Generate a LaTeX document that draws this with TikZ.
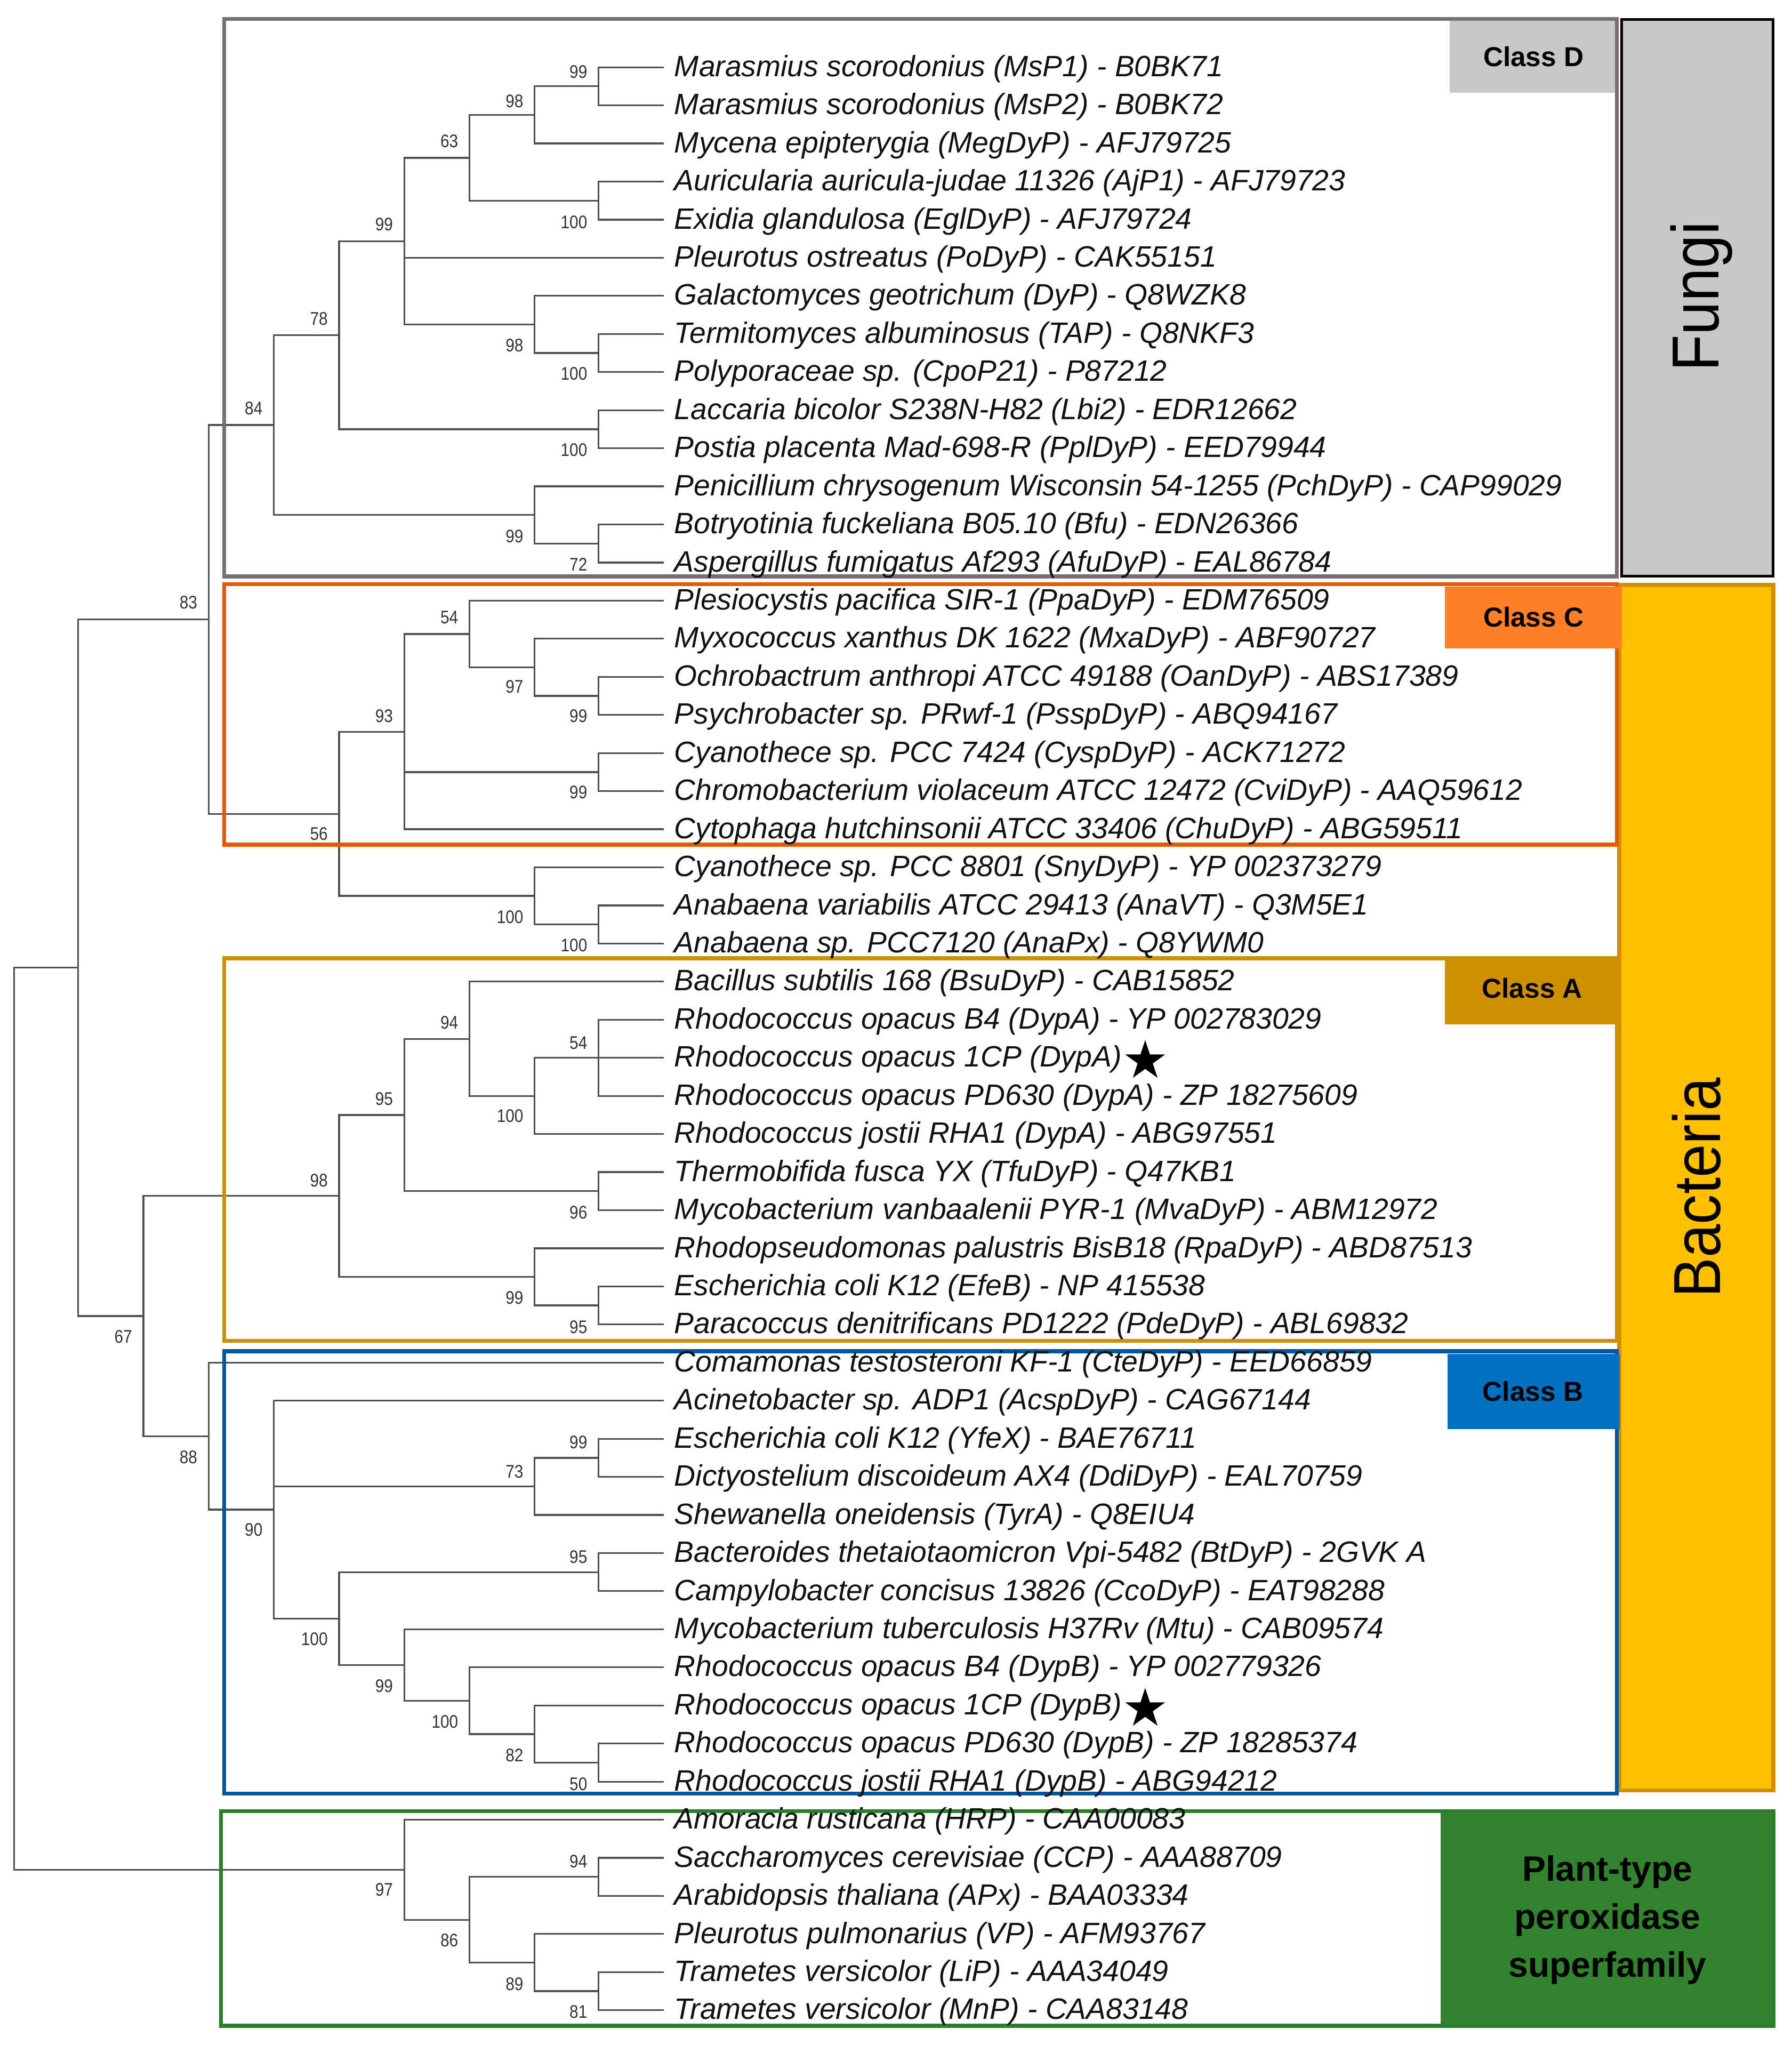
\documentclass[tikz,border=0pt]{standalone}
\usepackage{fontspec}
\setmainfont{Liberation Sans}
\newfontfamily\bsfont[FakeStretch=0.87]{Liberation Sans}
\newfontfamily\bigfont[FakeStretch=0.9]{Liberation Sans}
\newfontfamily\starfont{DejaVu Sans}
\definecolor{treeline}{HTML}{505050}
\definecolor{leaftext}{HTML}{111111}
\definecolor{bstext}{HTML}{333333}
\definecolor{classDline}{HTML}{787070}
\definecolor{classDfill}{HTML}{C8C8C8}
\definecolor{classCline}{HTML}{E35B00}
\definecolor{classCfill}{HTML}{FF7F27}
\definecolor{classAcol}{HTML}{CF9000}
\definecolor{classBline}{HTML}{00569E}
\definecolor{classBfill}{HTML}{0070C0}
\definecolor{bactfill}{HTML}{FFC000}
\definecolor{bactline}{HTML}{D09000}
\definecolor{plantline}{HTML}{2E7D2E}
\definecolor{plantfill}{HTML}{31832E}
\begin{document}
\begin{tikzpicture}[x=1pt,y=-1pt,
  br/.style={draw=treeline, line width=1.3pt},
  leaf/.style={anchor=base west, inner sep=0pt, text=leaftext, font=\fontsize{22.6}{27}\selectfont\itshape},
  bsl/.style={anchor=east, inner sep=0pt, text=bstext, font=\bsfont\fontsize{14}{16}\selectfont},
  classlabel/.style={inner sep=0pt, text=black, font=\fontsize{21}{25}\selectfont\bfseries},
  kingdom/.style={rotate=90, anchor=base, inner sep=0pt, text=black, font=\bigfont\fontsize{51}{60}\selectfont},
  starn/.style={inner sep=0pt, text=black, font=\starfont\fontsize{40}{46}\selectfont},
  boxline/.style={line width=3pt}]
\useasboundingbox (0,0) rectangle (1374,1568);
\fill[white] (0,0) rectangle (1374,1568);

% ---------- kingdom panels ----------
\draw[fill=bactfill, draw=bactline, line width=3pt] (1241.7,448.5) rectangle (1359.8,1372.8);
\draw[fill=classDfill, draw=black, line width=2pt] (1243.4,15.1) rectangle (1359.6,441.6);
\node[kingdom] (fungi) at (1318,227.5) {Fungi};
\node[kingdom] (bacteria) at (1319,910.7) {Bacteria};

% ---------- leaf tips ----------
\foreach \i in {1,...,52} \coordinate (T\i) at (509, {51.6+(\i-1)*29.21});

% ---------- internal nodes ----------
\coordinate (a1) at (459,66.2);
\coordinate (a2) at (410,88.1);
\coordinate (a3) at (459,153.8);
\coordinate (a4) at (360,121.0);
\coordinate (a5) at (459,270.7);
\coordinate (a6) at (410,248.8);
\coordinate (a7) at (310,184.9);
\coordinate (a8) at (459,329.1);
\coordinate (a9) at (260,257.0);
\coordinate (a10) at (459,416.7);
\coordinate (a11) at (410,394.8);
\coordinate (a12) at (210,325.9);
\coordinate (c1) at (459,533.6);
\coordinate (c2) at (410,511.7);
\coordinate (c3) at (360,486.1);
\coordinate (c4) at (459,592.0);
\coordinate (c5) at (310,561.0);
\coordinate (c6) at (459,708.8);
\coordinate (c7) at (410,686.9);
\coordinate (c8) at (260,624.0);
\coordinate (f) at (160,475.0);
\coordinate (d1) at (459,811.1);
\coordinate (d2) at (410,840.3);
\coordinate (d3) at (360,796.5);
\coordinate (d4) at (459,913.3);
\coordinate (d5) at (310,854.9);
\coordinate (d6) at (459,1000.9);
\coordinate (d7) at (410,979.0);
\coordinate (d8) at (260,917.0);
\coordinate (e1) at (459,1117.8);
\coordinate (e2) at (410,1139.7);
\coordinate (e3) at (459,1205.4);
\coordinate (e4) at (459,1351.5);
\coordinate (e5) at (410,1329.6);
\coordinate (e6) at (360,1304.0);
\coordinate (e7) at (310,1276.6);
\coordinate (e8) at (260,1241.0);
\coordinate (e9) at (210,1157.5);
\coordinate (e10) at (160,1101.1);
\coordinate (g) at (110,1009.1);
\coordinate (h) at (60,742.0);
\coordinate (p1) at (459,1439.1);
\coordinate (p2) at (459,1526.7);
\coordinate (p3) at (410,1504.8);
\coordinate (p4) at (360,1472.0);
\coordinate (p5) at (310,1433.6);
\coordinate (root) at (11,1087.8);

% ---------- branches ----------
\foreach \p/\c in {a1/T1,a1/T2,a2/a1,a2/T3,a3/T4,a3/T5,a4/a2,a4/a3,a5/T8,a5/T9,a6/T7,a6/a5,
  a7/a4,a7/T6,a7/a6,a8/T10,a8/T11,a9/a7,a9/a8,a10/T13,a10/T14,a11/T12,a11/a10,a12/a9,a12/a11,
  c1/T17,c1/T18,c2/T16,c2/c1,c3/T15,c3/c2,c4/T19,c4/T20,c5/c3,c5/c4,c5/T21,c6/T23,c6/T24,
  c7/T22,c7/c6,c8/c5,c8/c7,f/a12,f/c8,
  d1/T26,d1/T28,d2/d1,d2/T27,d2/T29,d3/T25,d3/d2,d4/T30,d4/T31,d5/d3,d5/d4,d6/T33,d6/T34,
  d7/T32,d7/d6,d8/d5,d8/d7,
  e1/T37,e1/T38,e2/e1,e2/T39,e3/T40,e3/T41,e4/T45,e4/T46,e5/T44,e5/e4,e6/T43,e6/e5,
  e7/T42,e7/e6,e8/e3,e8/e7,e9/T36,e9/e2,e9/e8,e10/T35,e10/e9,g/d8,g/e10,h/f,h/g,
  p1/T48,p1/T49,p2/T51,p2/T52,p3/T50,p3/p2,p4/p1,p4/p3,p5/T47,p5/p4,root/h,root/p5}
  \draw[br] (\p) |- (\c);

% ---------- class boxes ----------
\draw[boxline, draw=classDline] (172,14.6) rectangle (1240,442);
\draw[boxline, draw=classCline] (172,447.8) rectangle (1240,647.7);
\draw[boxline, draw=classAcol] (172,734.7) rectangle (1240,1028.2);
\draw[boxline, draw=classBline] (172,1036) rectangle (1240,1375.3);

\fill[classDfill] (1111.6,16.1) rectangle (1238.5,71.3);
\fill[classCfill] (1108.2,449.7) rectangle (1243.6,497.1);
\fill[classAcol] (1108.2,736.1) rectangle (1240,785.4);
\fill[classBfill] (1110,1038) rectangle (1242,1095.9);
\fill[plantfill] (1104.6,1388.6) rectangle (1359.8,1553.3);
\draw[boxline, draw=plantline] (169.5,1388.6) rectangle (1359.8,1553.3);

\node[classlabel] (lD) at (1176,43.2) {Class D};
\node[classlabel] (lC) at (1176,473.1) {Class C};
\node[classlabel] (lA) at (1175,757.7) {Class A};
\node[classlabel] (lB) at (1175.5,1066.7) {Class B};
\node[inner sep=0pt, align=center, text=black, font=\fontsize{27}{36.7}\selectfont\bfseries] (lP) at (1232.6,1472) {Plant-type\\peroxidase\\superfamily};

% ---------- leaf labels ----------
\foreach \lab [count=\i] in {
Marasmius scorodonius (MsP1) - B0BK71,
Marasmius scorodonius (MsP2) - B0BK72,
Mycena epipterygia (MegDyP) - AFJ79725,
Auricularia auricula-judae 11326 (AjP1) - AFJ79723,
Exidia glandulosa (EglDyP) - AFJ79724,
Pleurotus ostreatus (PoDyP) - CAK55151,
Galactomyces geotrichum (DyP) - Q8WZK8,
Termitomyces albuminosus (TAP) - Q8NKF3,
Polyporaceae sp. (CpoP21) - P87212,
Laccaria bicolor S238N-H82 (Lbi2) - EDR12662,
Postia placenta Mad-698-R (PplDyP) - EED79944,
Penicillium chrysogenum Wisconsin 54-1255 (PchDyP) - CAP99029,
Botryotinia fuckeliana B05.10 (Bfu) - EDN26366,
Aspergillus fumigatus Af293 (AfuDyP) - EAL86784,
Plesiocystis pacifica SIR-1 (PpaDyP) - EDM76509,
Myxococcus xanthus DK 1622 (MxaDyP) - ABF90727,
Ochrobactrum anthropi ATCC 49188 (OanDyP) - ABS17389,
Psychrobacter sp. PRwf-1 (PsspDyP) - ABQ94167,
Cyanothece sp. PCC 7424 (CyspDyP) - ACK71272,
Chromobacterium violaceum ATCC 12472 (CviDyP) - AAQ59612,
Cytophaga hutchinsonii ATCC 33406 (ChuDyP) - ABG59511,
Cyanothece sp. PCC 8801 (SnyDyP) - YP 002373279,
Anabaena variabilis ATCC 29413 (AnaVT) - Q3M5E1,
Anabaena sp. PCC7120 (AnaPx) - Q8YWM0,
Bacillus subtilis 168 (BsuDyP) - CAB15852,
Rhodococcus opacus B4 (DypA) - YP 002783029,
Rhodococcus opacus 1CP (DypA),
Rhodococcus opacus PD630 (DypA) - ZP 18275609,
Rhodococcus jostii RHA1 (DypA) - ABG97551,
Thermobifida fusca YX (TfuDyP) - Q47KB1,
Mycobacterium vanbaalenii PYR-1 (MvaDyP) - ABM12972,
Rhodopseudomonas palustris BisB18 (RpaDyP) - ABD87513,
Escherichia coli K12 (EfeB) - NP 415538,
Paracoccus denitrificans PD1222 (PdeDyP) - ABL69832,
Comamonas testosteroni KF-1 (CteDyP) - EED66859,
Acinetobacter sp. ADP1 (AcspDyP) - CAG67144,
Escherichia coli K12 (YfeX) - BAE76711,
Dictyostelium discoideum AX4 (DdiDyP) - EAL70759,
Shewanella oneidensis (TyrA) - Q8EIU4,
Bacteroides thetaiotaomicron Vpi-5482 (BtDyP) - 2GVK A,
Campylobacter concisus 13826 (CcoDyP) - EAT98288,
Mycobacterium tuberculosis H37Rv (Mtu) - CAB09574,
Rhodococcus opacus B4 (DypB) - YP 002779326,
Rhodococcus opacus 1CP (DypB),
Rhodococcus opacus PD630 (DypB) - ZP 18285374,
Rhodococcus jostii RHA1 (DypB) - ABG94212,
Amoracia rusticana (HRP) - CAA00083,
Saccharomyces cerevisiae (CCP) - AAA88709,
Arabidopsis thaliana (APx) - BAA03334,
Pleurotus pulmonarius (VP) - AFM93767,
Trametes versicolor (LiP) - AAA34049,
Trametes versicolor (MnP) - CAA83148}
  \node[leaf] (N\i) at (517, {58.6+(\i-1)*29.21}) {\lab};

\node[starn, anchor=west] (star1) at (N27.east) {★};
\node[starn, anchor=west] (star2) at (N44.east) {★};

% ---------- bootstrap values ----------
\node[bsl] (b1) at (450.5,55.1) {99};
\node[bsl] (b2) at (401.5,77.5) {98};
\node[bsl] (b3) at (351.5,108.4) {63};
\node[bsl] (b4) at (450.5,170.4) {100};
\node[bsl] (b5) at (301.5,172.1) {99};
\node[bsl] (b6) at (251.5,244.4) {78};
\node[bsl] (b7) at (401.5,265) {98};
\node[bsl] (b8) at (450.5,286.6) {100};
\node[bsl] (b9) at (201.5,313.2) {84};
\node[bsl] (b10) at (450.5,345.1) {100};
\node[bsl] (b11) at (401.5,411) {99};
\node[bsl] (b12) at (450.5,432.9) {72};
\node[bsl] (b13) at (151.5,462.1) {83};
\node[bsl] (b14) at (351.5,473.3) {54};
\node[bsl] (b15) at (401.5,526.7) {97};
\node[bsl] (b16) at (301.5,548.8) {93};
\node[bsl] (b17) at (450.5,549.1) {99};
\node[bsl] (b18) at (450.5,607.6) {99};
\node[bsl] (b19) at (251.5,639.5) {56};
\node[bsl] (b20) at (401.5,703.2) {100};
\node[bsl] (b21) at (450.5,724.7) {100};
\node[bsl] (b22) at (351.5,784.1) {94};
\node[bsl] (b23) at (450.5,799.6) {54};
\node[bsl] (b24) at (301.5,842.7) {95};
\node[bsl] (b25) at (401.5,855.6) {100};
\node[bsl] (b26) at (251.5,905.1) {98};
\node[bsl] (b27) at (450.5,929.6) {96};
\node[bsl] (b28) at (401.5,995) {99};
\node[bsl] (b29) at (450.5,1017.4) {95};
\node[bsl] (b30) at (101.5,1025.1) {67};
\node[bsl] (b31) at (450.5,1106) {99};
\node[bsl] (b32) at (151.5,1117.2) {88};
\node[bsl] (b33) at (401.5,1128.4) {73};
\node[bsl] (b34) at (201.5,1173.1) {90};
\node[bsl] (b35) at (450.5,1193.8) {95};
\node[bsl] (b36) at (251.5,1256.6) {100};
\node[bsl] (b37) at (301.5,1292.7) {99};
\node[bsl] (b38) at (351.5,1319.9) {100};
\node[bsl] (b39) at (401.5,1346) {82};
\node[bsl] (b40) at (450.5,1367.9) {50};
\node[bsl] (b41) at (450.5,1427.2) {94};
\node[bsl] (b42) at (301.5,1449) {97};
\node[bsl] (b43) at (351.5,1487.9) {86};
\node[bsl] (b44) at (401.5,1521.1) {89};
\node[bsl] (b45) at (450.5,1542.6) {81};
\end{tikzpicture}
\end{document}
